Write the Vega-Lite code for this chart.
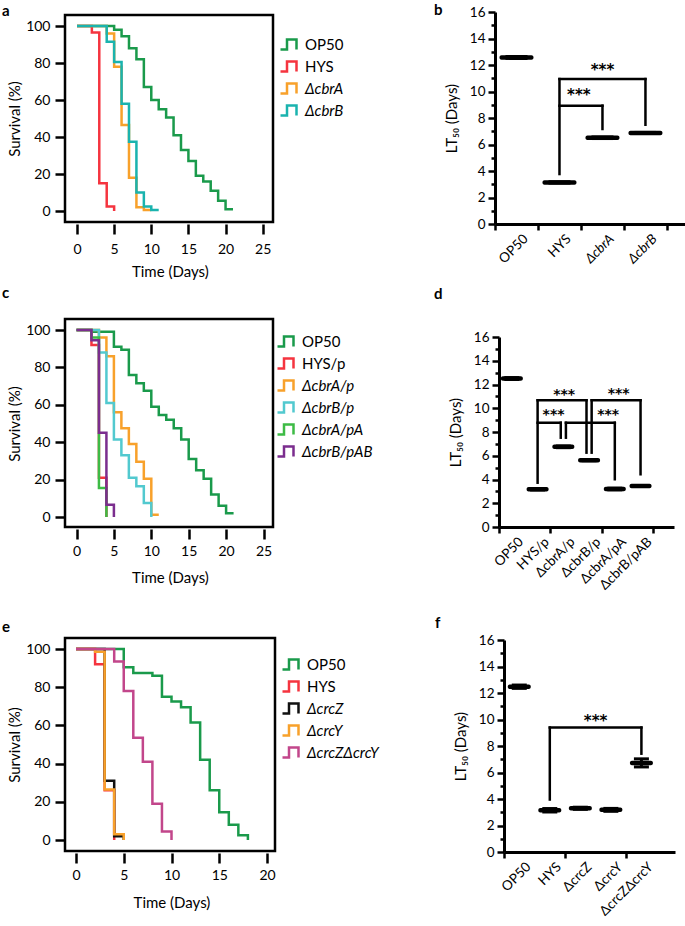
{
  "$schema": "https://vega.github.io/schema/vega-lite/v6.json",
  "padding": {"top": 2, "left": 0, "right": 0, "bottom": 0},
  "columns": 2,
  "bounds": "flush",
  "align": "each",
  "spacing": {"row": 95, "column": 220},
  "resolve": {"scale": {"color": "independent", "x": "independent", "y": "independent"}, "legend": {"color": "independent"}},
  "datasets": {
    "sa": [
      {"g":"OP50","t":0,"s":100},{"g":"OP50","t":5,"s":98},{"g":"OP50","t":6,"s":94.5},{"g":"OP50","t":7,"s":88},{"g":"OP50","t":8,"s":82},{"g":"OP50","t":9,"s":67},{"g":"OP50","t":10,"s":60},{"g":"OP50","t":11,"s":55},{"g":"OP50","t":12,"s":50.5},{"g":"OP50","t":13,"s":41},{"g":"OP50","t":14,"s":33},{"g":"OP50","t":15,"s":27},{"g":"OP50","t":16,"s":19},{"g":"OP50","t":17,"s":16},{"g":"OP50","t":18,"s":11},{"g":"OP50","t":19,"s":5.5},{"g":"OP50","t":20,"s":1},{"g":"OP50","t":21,"s":1},
      {"g":"HYS","t":0,"s":100},{"g":"HYS","t":2,"s":96.5},{"g":"HYS","t":3,"s":15},{"g":"HYS","t":4,"s":2.5},{"g":"HYS","t":5,"s":0},
      {"g":"ΔcbrA","t":0,"s":100},{"g":"ΔcbrA","t":4,"s":96},{"g":"ΔcbrA","t":5,"s":78},{"g":"ΔcbrA","t":6,"s":46.5},{"g":"ΔcbrA","t":7,"s":18},{"g":"ΔcbrA","t":8,"s":2},{"g":"ΔcbrA","t":9,"s":0.5},{"g":"ΔcbrA","t":10,"s":0.5},
      {"g":"ΔcbrB","t":0,"s":100},{"g":"ΔcbrB","t":4,"s":91.5},{"g":"ΔcbrB","t":5,"s":80.5},{"g":"ΔcbrB","t":6,"s":58},{"g":"ΔcbrB","t":7,"s":37.5},{"g":"ΔcbrB","t":8,"s":10},{"g":"ΔcbrB","t":9,"s":2.5},{"g":"ΔcbrB","t":10,"s":0.5},{"g":"ΔcbrB","t":11,"s":0.5}
    ],
    "sc": [
      {"g":"OP50","t":0,"s":100},{"g":"OP50","t":2,"s":99},{"g":"OP50","t":5,"s":91},{"g":"OP50","t":6,"s":89.5},{"g":"OP50","t":7,"s":76},{"g":"OP50","t":8,"s":71.5},{"g":"OP50","t":9,"s":67.5},{"g":"OP50","t":10,"s":59},{"g":"OP50","t":11,"s":54.5},{"g":"OP50","t":12,"s":52},{"g":"OP50","t":13,"s":47.5},{"g":"OP50","t":14,"s":41.5},{"g":"OP50","t":15,"s":31},{"g":"OP50","t":16,"s":25},{"g":"OP50","t":17,"s":20.5},{"g":"OP50","t":18,"s":12},{"g":"OP50","t":19,"s":6},{"g":"OP50","t":20,"s":2},{"g":"OP50","t":21,"s":2},
      {"g":"HYS/p","t":0,"s":100},{"g":"HYS/p","t":2,"s":92},{"g":"HYS/p","t":3,"s":21},{"g":"HYS/p","t":4,"s":0},
      {"g":"ΔcbrA/p","t":0,"s":100},{"g":"ΔcbrA/p","t":3,"s":96},{"g":"ΔcbrA/p","t":4,"s":86},{"g":"ΔcbrA/p","t":5,"s":56},{"g":"ΔcbrA/p","t":6,"s":47.5},{"g":"ΔcbrA/p","t":7,"s":39},{"g":"ΔcbrA/p","t":8,"s":29.5},{"g":"ΔcbrA/p","t":9,"s":20.5},{"g":"ΔcbrA/p","t":10,"s":1.2},{"g":"ΔcbrA/p","t":11,"s":1.2},
      {"g":"ΔcbrB/p","t":0,"s":100},{"g":"ΔcbrB/p","t":3,"s":88},{"g":"ΔcbrB/p","t":4,"s":61},{"g":"ΔcbrB/p","t":5,"s":41.5},{"g":"ΔcbrB/p","t":6,"s":33},{"g":"ΔcbrB/p","t":7,"s":21},{"g":"ΔcbrB/p","t":8,"s":16.5},{"g":"ΔcbrB/p","t":9,"s":7.5},{"g":"ΔcbrB/p","t":10,"s":0},
      {"g":"ΔcbrA/pA","t":0,"s":100},{"g":"ΔcbrA/pA","t":2,"s":96},{"g":"ΔcbrA/pA","t":3,"s":15.5},{"g":"ΔcbrA/pA","t":4,"s":0},
      {"g":"ΔcbrB/pAB","t":0,"s":100},{"g":"ΔcbrB/pAB","t":2,"s":94.5},{"g":"ΔcbrB/pAB","t":3,"s":45},{"g":"ΔcbrB/pAB","t":4,"s":6.5},{"g":"ΔcbrB/pAB","t":5,"s":0}
    ],
    "se": [
      {"g":"OP50","t":0,"s":100},{"g":"OP50","t":5,"s":90.5},{"g":"OP50","t":6,"s":87.5},{"g":"OP50","t":8,"s":86},{"g":"OP50","t":9,"s":75},{"g":"OP50","t":10,"s":72.5},{"g":"OP50","t":11,"s":69.5},{"g":"OP50","t":12,"s":61.5},{"g":"OP50","t":13,"s":42},{"g":"OP50","t":14,"s":26},{"g":"OP50","t":15,"s":14.5},{"g":"OP50","t":16,"s":8},{"g":"OP50","t":17,"s":2.5},{"g":"OP50","t":18,"s":0},
      {"g":"HYS","t":0,"s":100},{"g":"HYS","t":2,"s":92},{"g":"HYS","t":3,"s":26},{"g":"HYS","t":4,"s":0},
      {"g":"ΔcrcZ","t":0,"s":100},{"g":"ΔcrcZ","t":3,"s":31},{"g":"ΔcrcZ","t":4,"s":2},{"g":"ΔcrcZ","t":5,"s":0},
      {"g":"ΔcrcY","t":0,"s":100},{"g":"ΔcrcY","t":2,"s":98.5},{"g":"ΔcrcY","t":3,"s":26.5},{"g":"ΔcrcY","t":4,"s":3},{"g":"ΔcrcY","t":5,"s":0},
      {"g":"ΔcrcZΔcrcY","t":0,"s":100},{"g":"ΔcrcZΔcrcY","t":4,"s":93.5},{"g":"ΔcrcZΔcrcY","t":5,"s":78},{"g":"ΔcrcZΔcrcY","t":6,"s":53.5},{"g":"ΔcrcZΔcrcY","t":7,"s":41},{"g":"ΔcrcZΔcrcY","t":8,"s":19},{"g":"ΔcrcZΔcrcY","t":9,"s":4.5},{"g":"ΔcrcZΔcrcY","t":10,"s":0}
    ],
    "lb": [{"i":1,"m":12.57,"lo":12.5,"hi":12.64},{"i":2,"m":3.14,"lo":3.09,"hi":3.19},{"i":3,"m":6.51,"lo":6.45,"hi":6.57},{"i":4,"m":6.87,"lo":6.83,"hi":6.91}],
    "ld": [{"i":1,"m":12.5,"lo":12.42,"hi":12.58},{"i":2,"m":3.17,"lo":3.12,"hi":3.22},{"i":3,"m":6.75,"lo":6.68,"hi":6.82},{"i":4,"m":5.62,"lo":5.58,"hi":5.66},{"i":5,"m":3.2,"lo":3.13,"hi":3.27},{"i":6,"m":3.45,"lo":3.41,"hi":3.49}],
    "lf": [{"i":1,"m":12.47,"lo":12.35,"hi":12.6},{"i":2,"m":3.15,"lo":3.02,"hi":3.28},{"i":3,"m":3.3,"lo":3.22,"hi":3.38},{"i":4,"m":3.18,"lo":3.07,"hi":3.29},{"i":5,"m":6.72,"lo":6.42,"hi":7.03}],
    "nb": [{"i":1,"name":"OP50","it":0},{"i":2,"name":"HYS","it":0},{"i":3,"name":"ΔcbrA","it":1},{"i":4,"name":"ΔcbrB","it":1}],
    "nd": [{"i":1,"name":"OP50"},{"i":2,"name":"HYS/p"},{"i":3,"name":"ΔcbrA/p"},{"i":4,"name":"ΔcbrB/p"},{"i":5,"name":"ΔcbrA/pA"},{"i":6,"name":"ΔcbrB/pAB"}],
    "nf": [{"i":1,"name":"OP50"},{"i":2,"name":"HYS"},{"i":3,"name":"ΔcrcZ"},{"i":4,"name":"ΔcrcY"},{"i":5,"name":"ΔcrcZΔcrcY"}],
    "bb": [{"x1":2,"x2":2,"y1":3.77,"y2":10.94},{"x1":2,"x2":4,"y1":10.94,"y2":10.94},{"x1":4,"x2":4,"y1":10.94,"y2":7.49},{"x1":2,"x2":3,"y1":8.93,"y2":8.93},{"x1":3,"x2":3,"y1":8.93,"y2":7.17}],
    "bd": [{"x1":2,"x2":2,"y1":3.73,"y2":10.67},{"x1":2,"x2":3.9,"y1":10.67,"y2":10.67},{"x1":3.9,"x2":3.9,"y1":10.67,"y2":6.26},{"x1":2,"x2":2.9,"y1":8.78,"y2":8.78},{"x1":2.9,"x2":2.9,"y1":8.78,"y2":7.52},{"x1":3.1,"x2":3.1,"y1":7.52,"y2":8.78},{"x1":3.1,"x2":5,"y1":8.78,"y2":8.78},{"x1":5,"x2":5,"y1":8.78,"y2":4.02},{"x1":4.1,"x2":4.1,"y1":6.26,"y2":10.67},{"x1":4.1,"x2":6,"y1":10.67,"y2":10.67},{"x1":6,"x2":6,"y1":10.67,"y2":4.44}],
    "bf": [{"x1":2,"x2":2,"y1":3.96,"y2":9.39},{"x1":2,"x2":5,"y1":9.39,"y2":9.39},{"x1":5,"x2":5,"y1":9.39,"y2":7.42}],
    "tb": [{"x":3,"y":11.95,"label":"***"},{"x":2.45,"y":10.06,"label":"***"}],
    "td": [{"x":3.03,"y":11.45,"label":"***"},{"x":2.62,"y":9.77,"label":"***"},{"x":5.15,"y":11.5,"label":"***"},{"x":4.74,"y":9.77,"label":"***"}],
    "tf": [{"x":3.5,"y":10.2,"label":"***"}]
  },
  "concat": [
    {
      "title": {"text": "a", "dx": -63, "dy": 8},
      "width": 208, "height": 207,
      "view": {"stroke": "black", "strokeWidth": 2.5},
      "data": {"name": "sa"},
      "mark": {"type": "line", "interpolate": "step-after", "strokeWidth": 2.5},
      "encoding": {
        "x": {"field": "t", "type": "quantitative", "scale": {"domain": [0, 25], "range": [12, 197.7], "nice": false, "zero": false},
              "axis": {"values": [0, 5, 10, 15, 20, 25], "domain": false, "tickSize": 10, "offset": 2, "labelPadding": 8, "title": "Time (Days)", "titlePadding": 8}},
        "y": {"field": "s", "type": "quantitative", "scale": {"domain": [0, 100], "range": [196, 11], "nice": false, "zero": false},
              "axis": {"values": [0, 20, 40, 60, 80, 100], "domain": false, "tickSize": 10, "labelPadding": 5, "title": "Survival (%)", "titlePadding": 3}},
        "color": {"field": "g", "type": "nominal", "sort": null,
                  "scale": {"domain": ["OP50", "HYS", "ΔcbrA", "ΔcbrB"], "range": ["#1a9a4b", "#f5343f", "#f8a12b", "#1ab3ae"]},
                  "legend": {"orient": "none", "title": null, "legendX": 214, "legendY": 18, "rowPadding": 0,
                             "labelFontStyle": {"expr": "indexof(datum.label, 'Δ') >= 0 ? 'italic' : 'normal'"}}}
      }
    },
    {
      "title": {"text": "b", "dx": -61, "dy": 17},
      "width": 190, "height": 209,
      "view": {"stroke": null},
      "layer": [
        {"data": {"name": "lb"}, "mark": {"type": "rule", "strokeWidth": 3, "color": "black"},
         "encoding": {
           "x": {"field": "i", "type": "quantitative", "title": null, "scale": {"domain": [0.5, 4.92], "range": [0, 190], "nice": false, "zero": false},
                 "axis": {"values": [0.5, 1.5, 2.5, 3.5, 4.5], "labels": false, "tickSize": 6, "title": null, "domainWidth": 3, "labelOverlap": false}},
           "y": {"field": "lo", "type": "quantitative", "scale": {"domain": [0, 16], "range": [209, -3], "nice": false, "zero": false},
                 "axis": {"orient": "left", "values": [0, 2, 4, 6, 8, 10, 12, 14, 16], "tickSize": 7, "labelPadding": 3, "labelFontSize": 13.5, "title": "LT₅₀ (Days)", "titlePadding": 10, "domainWidth": 3}},
           "y2": {"field": "hi"}}},
        {"data": {"name": "lb"}, "mark": {"type": "tick", "orient": "horizontal", "size": 34, "thickness": 4.5, "color": "black", "cornerRadius": 2, "opacity": 1},
         "encoding": {"x": {"field": "i", "type": "quantitative", "title": null, "axis": {"labelOverlap": false, "title": null}}, "y": {"field": "m", "type": "quantitative", "axis": null}}},
        {"data": {"name": "lb"}, "mark": {"type": "tick", "orient": "horizontal", "size": 22, "thickness": 3, "color": "black", "opacity": 1},
         "encoding": {"x": {"field": "i", "type": "quantitative", "title": null, "axis": {"labelOverlap": false, "title": null}}, "y": {"field": "lo", "type": "quantitative", "axis": null}}},
        {"data": {"name": "lb"}, "mark": {"type": "tick", "orient": "horizontal", "size": 22, "thickness": 3, "color": "black", "opacity": 1},
         "encoding": {"x": {"field": "i", "type": "quantitative", "title": null, "axis": {"labelOverlap": false, "title": null}}, "y": {"field": "hi", "type": "quantitative", "axis": null}}},
        {"data": {"name": "bb"}, "mark": {"type": "rule", "strokeWidth": 2.5, "color": "black", "strokeCap": "square"},
         "encoding": {"x": {"field": "x1", "type": "quantitative", "title": null, "axis": {"labelOverlap": false, "title": null}}, "x2": {"field": "x2"}, "y": {"field": "y1", "type": "quantitative", "axis": null}, "y2": {"field": "y2"}}},
        {"data": {"name": "tb"}, "mark": {"type": "text", "font": "DejaVu Sans", "fontSize": 15, "fontWeight": "bold", "baseline": "middle", "align": "center", "dy": 4, "color": "black"},
         "encoding": {"x": {"field": "x", "type": "quantitative", "title": null, "axis": {"labelOverlap": false, "title": null}}, "y": {"field": "y", "type": "quantitative", "axis": null}, "text": {"field": "label"}}},
        {"data": {"name": "nb"}, "transform": [{"filter": "datum.it == 0"}], "mark": {"type": "text", "font": "Lato", "fontSize": 13.5, "angle": 315, "align": "right", "baseline": "top", "dx": -2.5, "dy": 8.8, "color": "black"},
         "encoding": {"x": {"field": "i", "type": "quantitative", "title": null, "axis": {"labelOverlap": false, "title": null}}, "y": {"datum": 0, "type": "quantitative", "axis": null}, "text": {"field": "name"}}},
        {"data": {"name": "nb"}, "transform": [{"filter": "datum.it == 1"}], "mark": {"type": "text", "font": "Lato", "fontSize": 13.5, "fontStyle": "italic", "angle": 315, "align": "right", "baseline": "top", "dx": -2.5, "dy": 8.8, "color": "black"},
         "encoding": {"x": {"field": "i", "type": "quantitative", "title": null, "axis": {"labelOverlap": false, "title": null}}, "y": {"datum": 0, "type": "quantitative", "axis": null}, "text": {"field": "name"}}},
        {"data": {"name": "lb"}, "mark": {"type": "tick", "opacity": 0},
         "encoding": {"y": {"field": "m", "type": "quantitative", "axis": {"orient": "left", "values": [1, 3, 5, 7, 9, 11, 13, 15], "tickSize": 4, "labels": false, "domain": false, "title": null}}}}
      ],
      "resolve": {"axis": {"y": "independent"}}
    },
    {
      "title": {"text": "c", "dx": -63, "dy": -14},
      "width": 208, "height": 208,
      "view": {"stroke": "black", "strokeWidth": 2.5},
      "data": {"name": "sc"},
      "mark": {"type": "line", "interpolate": "step-after", "strokeWidth": 2.5},
      "encoding": {
        "x": {"field": "t", "type": "quantitative", "scale": {"domain": [0, 25], "range": [11.5, 198.5], "nice": false, "zero": false},
              "axis": {"values": [0, 5, 10, 15, 20, 25], "domain": false, "tickSize": 10, "offset": 2, "labelPadding": 5, "title": "Time (Days)", "titlePadding": 12}},
        "y": {"field": "s", "type": "quantitative", "scale": {"domain": [0, 100], "range": [198, 11], "nice": false, "zero": false},
              "axis": {"values": [0, 20, 40, 60, 80, 100], "domain": false, "tickSize": 10, "labelPadding": 5, "title": "Survival (%)", "titlePadding": 3}},
        "color": {"field": "g", "type": "nominal", "sort": null,
                  "scale": {"domain": ["OP50", "HYS/p", "ΔcbrA/p", "ΔcbrB/p", "ΔcbrA/pA", "ΔcbrB/pAB"], "range": ["#1a9a4b", "#f5343f", "#f8a12b", "#52c9cf", "#3dbb45", "#7b2d8e"]},
                  "legend": {"orient": "none", "title": null, "legendX": 211, "legendY": 11, "rowPadding": -0.5,
                             "labelFontStyle": {"expr": "indexof(datum.label, 'Δ') >= 0 ? 'italic' : 'normal'"}}}
      }
    },
    {
      "title": {"text": "d", "dx": -61, "dy": -13},
      "width": 179, "height": 224,
      "view": {"stroke": null},
      "layer": [
        {"data": {"name": "ld"}, "mark": {"type": "rule", "strokeWidth": 3, "color": "black"},
         "encoding": {
           "x": {"field": "i", "type": "quantitative", "title": null, "scale": {"domain": [0.5, 7.3], "range": [4, 179], "nice": false, "zero": false},
                 "axis": {"values": [0.5, 1.5, 2.5, 3.5, 4.5, 5.5, 6.5], "labels": false, "tickSize": 6, "title": null, "domainWidth": 3, "offset": -16, "labelOverlap": false}},
           "y": {"field": "lo", "type": "quantitative", "scale": {"domain": [0, 16], "range": [208, 18], "nice": false, "zero": false},
                 "axis": {"orient": "left", "offset": -4, "values": [0, 2, 4, 6, 8, 10, 12, 14, 16], "tickSize": 7, "labelPadding": 3, "labelFontSize": 13.5, "title": "LT₅₀ (Days)", "titlePadding": 10, "domainWidth": 3}},
           "y2": {"field": "hi"}}},
        {"data": {"name": "ld"}, "mark": {"type": "tick", "orient": "horizontal", "size": 22, "thickness": 4.5, "color": "black", "cornerRadius": 2, "opacity": 1},
         "encoding": {"x": {"field": "i", "type": "quantitative", "title": null, "axis": {"labelOverlap": false, "title": null}}, "y": {"field": "m", "type": "quantitative", "axis": null}}},
        {"data": {"name": "ld"}, "mark": {"type": "tick", "orient": "horizontal", "size": 15, "thickness": 3, "color": "black", "opacity": 1},
         "encoding": {"x": {"field": "i", "type": "quantitative", "title": null, "axis": {"labelOverlap": false, "title": null}}, "y": {"field": "lo", "type": "quantitative", "axis": null}}},
        {"data": {"name": "ld"}, "mark": {"type": "tick", "orient": "horizontal", "size": 15, "thickness": 3, "color": "black", "opacity": 1},
         "encoding": {"x": {"field": "i", "type": "quantitative", "title": null, "axis": {"labelOverlap": false, "title": null}}, "y": {"field": "hi", "type": "quantitative", "axis": null}}},
        {"data": {"name": "bd"}, "mark": {"type": "rule", "strokeWidth": 2.5, "color": "black", "strokeCap": "square"},
         "encoding": {"x": {"field": "x1", "type": "quantitative", "title": null, "axis": {"labelOverlap": false, "title": null}}, "x2": {"field": "x2"}, "y": {"field": "y1", "type": "quantitative", "axis": null}, "y2": {"field": "y2"}}},
        {"data": {"name": "td"}, "mark": {"type": "text", "font": "DejaVu Sans", "fontSize": 14, "fontWeight": "bold", "baseline": "middle", "align": "center", "dy": 4, "color": "black"},
         "encoding": {"x": {"field": "x", "type": "quantitative", "title": null, "axis": {"labelOverlap": false, "title": null}}, "y": {"field": "y", "type": "quantitative", "axis": null}, "text": {"field": "label"}}},
        {"data": {"name": "nd"}, "mark": {"type": "text", "font": "Lato", "fontSize": 13.5, "angle": 315, "align": "right", "baseline": "top", "dx": -2.5, "dy": 8.8, "color": "black"},
         "encoding": {"x": {"field": "i", "type": "quantitative", "title": null, "axis": {"labelOverlap": false, "title": null}}, "y": {"datum": 0, "type": "quantitative", "axis": null}, "text": {"field": "name"}}},
        {"data": {"name": "ld"}, "mark": {"type": "tick", "opacity": 0},
         "encoding": {"y": {"field": "m", "type": "quantitative", "axis": {"orient": "left", "offset": -4, "values": [1, 3, 5, 7, 9, 11, 13, 15], "tickSize": 4, "labels": false, "domain": false, "title": null}}}}
      ],
      "resolve": {"axis": {"y": "independent"}}
    },
    {
      "title": {"text": "e", "dx": -63, "dy": 1},
      "width": 210, "height": 213,
      "view": {"stroke": "black", "strokeWidth": 2.5},
      "data": {"name": "se"},
      "mark": {"type": "line", "interpolate": "step-after", "strokeWidth": 2.5},
      "encoding": {
        "x": {"field": "t", "type": "quantitative", "scale": {"domain": [0, 20], "range": [11, 202], "nice": false, "zero": false},
              "axis": {"values": [0, 5, 10, 15, 20], "domain": false, "tickSize": 10, "offset": 2, "labelPadding": 5, "title": "Time (Days)", "titlePadding": 13}},
        "y": {"field": "s", "type": "quantitative", "scale": {"domain": [0, 100], "range": [202, 11], "nice": false, "zero": false},
              "axis": {"values": [0, 20, 40, 60, 80, 100], "domain": false, "tickSize": 10, "labelPadding": 5, "title": "Survival (%)", "titlePadding": 3}},
        "color": {"field": "g", "type": "nominal", "sort": null,
                  "scale": {"domain": ["OP50", "HYS", "ΔcrcZ", "ΔcrcY", "ΔcrcZΔcrcY"], "range": ["#1a9a4b", "#f5343f", "#111111", "#f8a12b", "#c2468b"]},
                  "legend": {"orient": "none", "title": null, "legendX": 216, "legendY": 15, "rowPadding": 0,
                             "labelFontStyle": {"expr": "indexof(datum.label, 'Δ') >= 0 ? 'italic' : 'normal'"}}}
      }
    },
    {
      "title": {"text": "f", "dx": -60, "dy": 2},
      "width": 180, "height": 214,
      "view": {"stroke": null},
      "layer": [
        {"data": {"name": "lf"}, "mark": {"type": "rule", "strokeWidth": 3, "color": "black"},
         "encoding": {
           "x": {"field": "i", "type": "quantitative", "title": null, "scale": {"domain": [0.5, 6.1], "range": [9, 180], "nice": false, "zero": false},
                 "axis": {"values": [0.5, 1.5, 2.5, 3.5, 4.5, 5.5], "labels": false, "tickSize": 6, "title": null, "domainWidth": 3, "labelOverlap": false}},
           "y": {"field": "lo", "type": "quantitative", "scale": {"domain": [0, 16], "range": [214, 2], "nice": false, "zero": false},
                 "axis": {"orient": "left", "offset": -9, "values": [0, 2, 4, 6, 8, 10, 12, 14, 16], "tickSize": 7, "labelPadding": 3, "labelFontSize": 13.5, "title": "LT₅₀ (Days)", "titlePadding": 10, "domainWidth": 3}},
           "y2": {"field": "hi"}}},
        {"data": {"name": "lf"}, "mark": {"type": "tick", "orient": "horizontal", "size": 23, "thickness": 4.5, "color": "black", "cornerRadius": 2, "opacity": 1},
         "encoding": {"x": {"field": "i", "type": "quantitative", "title": null, "axis": {"labelOverlap": false, "title": null}}, "y": {"field": "m", "type": "quantitative", "axis": null}}},
        {"data": {"name": "lf"}, "mark": {"type": "tick", "orient": "horizontal", "size": 15, "thickness": 3, "color": "black", "opacity": 1},
         "encoding": {"x": {"field": "i", "type": "quantitative", "title": null, "axis": {"labelOverlap": false, "title": null}}, "y": {"field": "lo", "type": "quantitative", "axis": null}}},
        {"data": {"name": "lf"}, "mark": {"type": "tick", "orient": "horizontal", "size": 15, "thickness": 3, "color": "black", "opacity": 1},
         "encoding": {"x": {"field": "i", "type": "quantitative", "title": null, "axis": {"labelOverlap": false, "title": null}}, "y": {"field": "hi", "type": "quantitative", "axis": null}}},
        {"data": {"name": "bf"}, "mark": {"type": "rule", "strokeWidth": 2.5, "color": "black", "strokeCap": "square"},
         "encoding": {"x": {"field": "x1", "type": "quantitative", "title": null, "axis": {"labelOverlap": false, "title": null}}, "x2": {"field": "x2"}, "y": {"field": "y1", "type": "quantitative", "axis": null}, "y2": {"field": "y2"}}},
        {"data": {"name": "tf"}, "mark": {"type": "text", "font": "DejaVu Sans", "fontSize": 15, "fontWeight": "bold", "baseline": "middle", "align": "center", "dy": 4, "color": "black"},
         "encoding": {"x": {"field": "x", "type": "quantitative", "title": null, "axis": {"labelOverlap": false, "title": null}}, "y": {"field": "y", "type": "quantitative", "axis": null}, "text": {"field": "label"}}},
        {"data": {"name": "nf"}, "mark": {"type": "text", "font": "Lato", "fontSize": 13.5, "angle": 315, "align": "right", "baseline": "top", "dx": -2.5, "dy": 8.8, "color": "black"},
         "encoding": {"x": {"field": "i", "type": "quantitative", "title": null, "axis": {"labelOverlap": false, "title": null}}, "y": {"datum": 0, "type": "quantitative", "axis": null}, "text": {"field": "name"}}},
        {"data": {"name": "lf"}, "mark": {"type": "tick", "opacity": 0},
         "encoding": {"y": {"field": "m", "type": "quantitative", "axis": {"orient": "left", "offset": -9, "values": [1, 3, 5, 7, 9, 11, 13, 15], "tickSize": 4, "labels": false, "domain": false, "title": null}}}}
      ],
      "resolve": {"axis": {"y": "independent"}}
    }
  ],
  "config": {
    "font": "Lato",
    "view": {"stroke": null},
    "axis": {"labelFont": "Lato", "titleFont": "Lato", "labelFontSize": 14, "titleFontSize": 15, "titleFontWeight": "normal", "labelColor": "black", "titleColor": "black", "tickColor": "black", "domainColor": "black", "tickWidth": 2.5, "domainWidth": 2.5, "grid": false, "labelOverlap": false, "labelFlush": false, "labelBound": false},
    "legend": {"symbolType": "M-1,0.5H-0.35V-0.5H0.6V0.5", "symbolSize": 400, "symbolStrokeWidth": 2.5, "labelFont": "Lato", "labelFontSize": 15, "labelColor": "black", "labelOffset": 3, "padding": 0, "labelLimit": 300},
    "title": {"anchor": "start", "frame": "group", "font": "Lato", "fontSize": 15, "fontWeight": "bold", "color": "black", "baseline": "alphabetic", "offset": 0}
  }
}
